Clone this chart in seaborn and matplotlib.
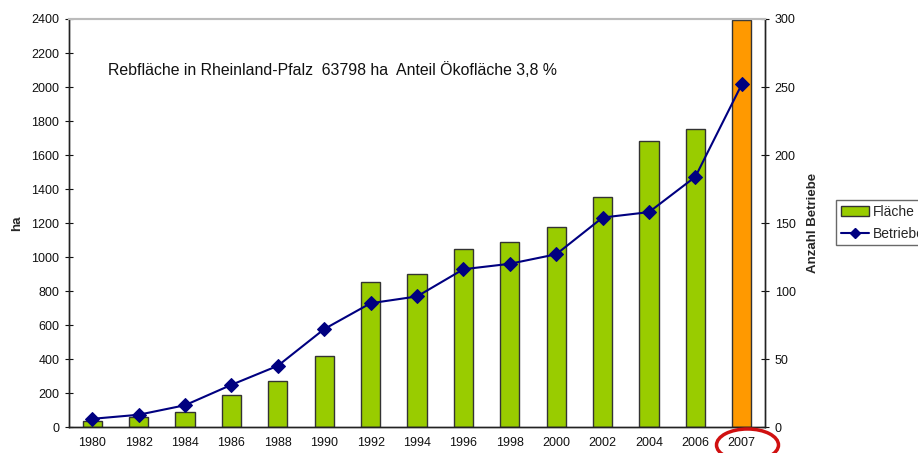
import matplotlib
matplotlib.use("Agg")
import matplotlib.pyplot as plt
from matplotlib.patches import Ellipse, Patch
from matplotlib.lines import Line2D
import numpy as np
import pandas as pd
import seaborn as sns

# values
jahre = ["1980", "1982", "1984", "1986", "1988", "1990", "1992", "1994",
         "1996", "1998", "2000", "2002", "2004", "2006", "2007"]
flaeche = [37, 61, 90, 188, 272, 417, 854, 901, 1048, 1086, 1176, 1351, 1680, 1754, 2395]
betriebe = [6, 9, 16, 31, 45, 72, 91, 96, 116, 120, 127, 154, 158, 184, 252]
bar_farben = ["#99CC00"] * 14 + ["#FF9900"]

sns.set_style("white")
plt.rcParams["font.family"] = ["Liberation Sans", "DejaVu Sans"]

df = pd.DataFrame({"jahr": jahre, "flaeche": flaeche, "betriebe": betriebe})

fig = plt.figure(figsize=(9.18, 4.53), dpi=100)
ax = fig.add_axes([69 / 918, 1 - 427 / 453, (765 - 69) / 918, (427 - 19) / 453])

sns.barplot(data=df, x="jahr", y="flaeche", hue="jahr", palette=bar_farben,
            legend=False, width=0.41, edgecolor="#333333", linewidth=1.0,
            saturation=1, ax=ax)
ax.set_xlim(-0.5, len(jahre) - 0.5)
ax.set_ylim(0, 2400)
ax.set_yticks(range(0, 2401, 200))
ax.set_xlabel("")
ax.set_ylabel("ha", fontsize=9.5, fontweight="bold", labelpad=6)
ax.tick_params(axis="x", which="major", length=0, labelsize=9, pad=7, colors="#111111")
ax.set_xticks(np.arange(0.5, len(jahre) - 1, 1), minor=True)
ax.tick_params(axis="x", which="minor", length=6, direction="inout", color="#111111")
ax.tick_params(axis="y", length=6, direction="inout", labelsize=9, colors="#111111", pad=4)

ax2 = ax.twinx()
sns.lineplot(x=np.arange(len(jahre)), y=df["betriebe"], ax=ax2, color="#000080",
             marker="D", markersize=7, markeredgecolor="#000080", linewidth=1.5)
ax2.set_ylim(0, 300)
ax2.set_yticks(range(0, 301, 50))
ax2.set_ylabel("Anzahl Betriebe", fontsize=9.5, fontweight="bold", labelpad=8)
ax2.tick_params(axis="y", length=6, direction="inout", labelsize=9, colors="#111111", pad=4)

for a in (ax, ax2):
    a.spines["top"].set_color("#BBBBBB")
    a.spines["top"].set_linewidth(1.5)
    for s in ("left", "right", "bottom"):
        a.spines[s].set_color("#222222")
        a.spines[s].set_linewidth(1.0)

ax.text(108 / 918, 1 - 70 / 453, "Rebfläche in Rheinland-Pfalz  63798 ha  Anteil Ökofläche 3,8 %",
        transform=fig.transFigure, fontsize=11.4, va="center", ha="left", color="#111111")

handles = [Patch(facecolor="#99CC00", edgecolor="#333333", label="Fläche"),
           Line2D([0], [0], color="#000080", marker="D", markersize=5, label="Betriebe")]
fig.legend(handles=handles, loc="upper left", bbox_to_anchor=(836 / 918, 1 - 200 / 453),
           frameon=True, fancybox=False, edgecolor="#444444", fontsize=10,
           handlelength=2.0, handletextpad=0.3, borderpad=0.35, labelspacing=0.55,
           borderaxespad=0)

# red ring around the 2007 label
fig.patches.append(Ellipse((747.5 / 918, 1 - 445 / 453), 62 / 918, 32 / 453,
                           transform=fig.transFigure, fill=False,
                           edgecolor="#D01010", linewidth=2.5))

fig.savefig("out.png", dpi=100)
